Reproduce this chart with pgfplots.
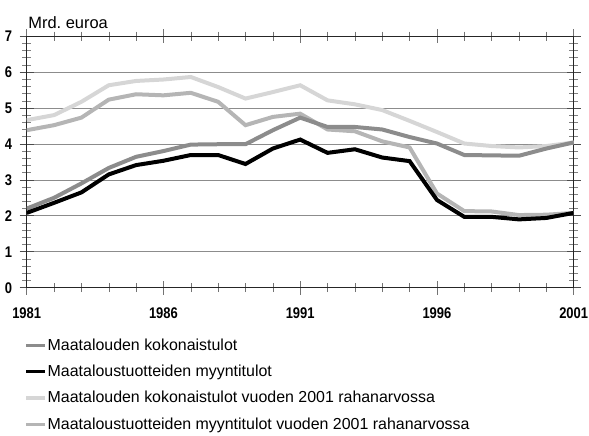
\documentclass[border=0pt]{standalone}
\usepackage{fontspec}
\setmainfont{Liberation Sans}
\newfontfamily\tickfont{Liberation Sans}[FakeStretch=0.84]
\usepackage{pgfplots}
\pgfplotsset{compat=1.18}
\usetikzlibrary{calc}
\definecolor{sA}{gray}{0.55}
\definecolor{sC}{gray}{0.84}
\definecolor{sD}{gray}{0.71}
\pgfplotstableread{
year kok myy kok01 myy01
1981 2.20 2.08 4.66 4.38
1982 2.50 2.36 4.80 4.52
1983 2.90 2.65 5.17 4.73
1984 3.33 3.15 5.63 5.23
1985 3.64 3.41 5.75 5.38
1986 3.80 3.53 5.79 5.35
1987 3.98 3.69 5.86 5.42
1988 3.99 3.69 5.58 5.17
1989 3.99 3.44 5.26 4.52
1990 4.38 3.87 5.44 4.75
1991 4.73 4.12 5.63 4.84
1992 4.47 3.75 5.21 4.40
1993 4.47 3.85 5.10 4.35
1994 4.40 3.62 4.94 4.07
1995 4.19 3.52 4.64 3.90
1996 4.01 2.44 4.33 2.62
1997 3.69 1.97 4.01 2.13
1998 3.68 1.97 3.94 2.12
1999 3.67 1.90 3.90 2.02
2000 3.87 1.94 3.94 2.03
2001 4.04 2.08 4.04 2.08
}\data
\begin{document}
\begin{tikzpicture}
\begin{axis}[name=ax,
  scale only axis, width=547bp, height=251.7bp,
  xmin=1981, xmax=2001, ymin=0, ymax=7,
  xtick={1981,1986,1991,1996,2001},
  minor xtick={1982,1983,1984,1985,1987,1988,1989,1990,1992,1993,1994,1995,1997,1998,1999,2000},
  ytick={0,...,7}, minor y tick num=4,
  xtick align=center, ytick align=center,
  major tick length=14bp, minor tick length=9bp,
  xtick style={black!55, line width=0.5pt},
  ytick style={black!70, line width=0.6pt},
  minor y tick style={black!50, line width=0.4pt},
  ymajorgrids, grid style={black!45, line width=0.6pt},
  axis line style={black!85, line width=0.8pt},
  xticklabel style={/pgf/number format/1000 sep={}, yshift=-9bp},
  yticklabel style={xshift=-4bp},
  /pgf/number format/assume math mode=true,
  tick label style={font=\tickfont\fontsize{15.5}{17}\selectfont\bfseries},
  legend style={at={(-0.004,-0.2)}, anchor=north west, draw=none, fill=none,
    font=\fontsize{16}{18}\selectfont, row sep=12.3bp, inner sep=0pt,
    nodes={inner sep=0.5pt},
    /tikz/every even column/.append style={column sep=-3bp}},
  legend cell align=left,
  legend image code/.code={\draw[#1] (0bp,0bp) -- (19bp,0bp);},
]
\addlegendimage{sA, line width=3.5bp}
\addlegendentry{Maatalouden kokonaistulot}
\addlegendimage{black, line width=3.5bp}
\addlegendentry{Maataloustuotteiden myyntitulot}
\addlegendimage{sC, line width=3.5bp}
\addlegendentry{Maatalouden kokonaistulot vuoden 2001 rahanarvossa}
\addlegendimage{sD, line width=3.5bp}
\addlegendentry{Maataloustuotteiden myyntitulot vuoden 2001 rahanarvossa}
\addplot[forget plot, sC, line width=4bp] table[x=year,y=kok01]{\data};
\addplot[forget plot, sD, line width=4bp] table[x=year,y=myy01]{\data};
\addplot[forget plot, sA, line width=4bp] table[x=year,y=kok]{\data};
\addplot[forget plot, black, line width=4bp] table[x=year,y=myy]{\data};
\end{axis}
\node[anchor=base west, inner sep=0pt, font=\fontsize{16.5}{19}\selectfont] at ($(ax.north west)+(1.5bp,7.5bp)$) {Mrd.\ euroa};
\pgfresetboundingbox
\path ($(ax.south west)+(-26.7bp,-148.3bp)$) rectangle ($(ax.south west)+(562.3bp,287.7bp)$);
\end{tikzpicture}
\end{document}
